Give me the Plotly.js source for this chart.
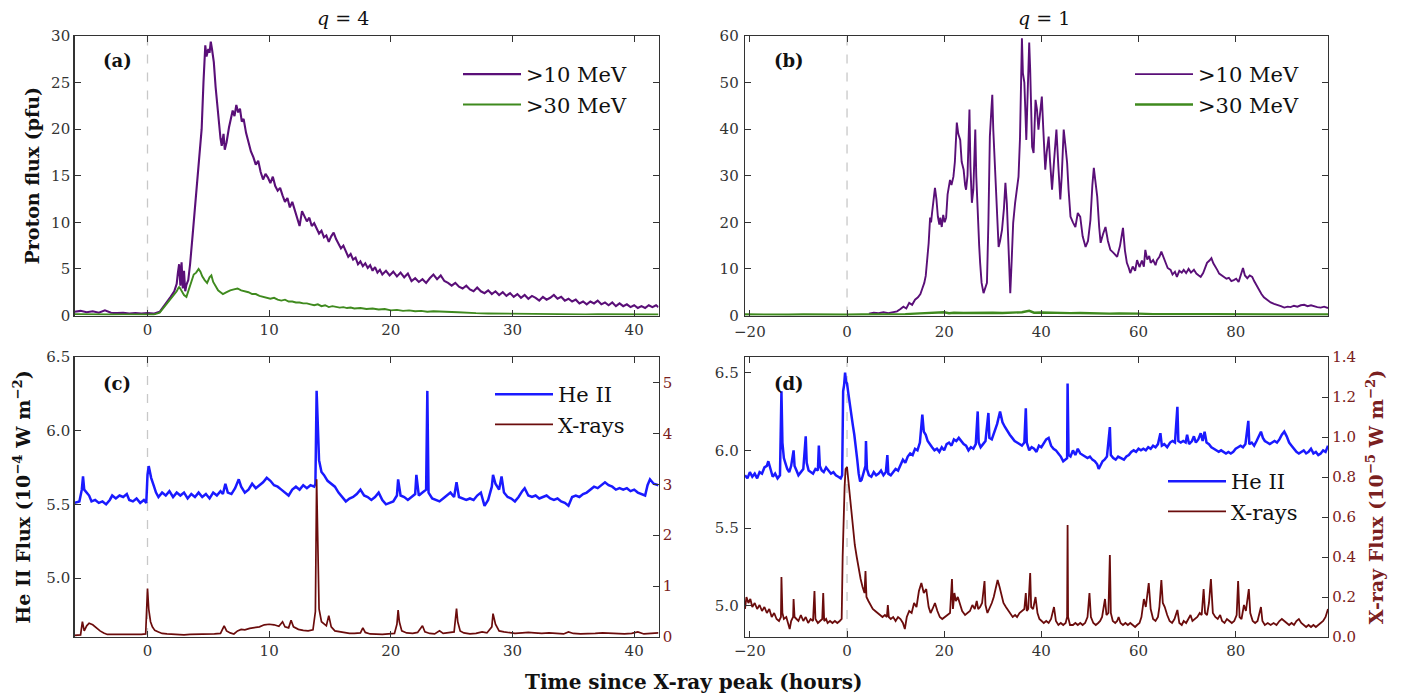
<!DOCTYPE html>
<html><head><meta charset="utf-8">
<script src="https://cdn.plot.ly/plotly-3.0.1.min.js"></script>
<style>html,body{margin:0;padding:0;background:#fff}#chart{width:1416px;height:698px}</style>
</head><body><div id="chart"></div>
<script>
// ---------- data: [time (hours), value] ----------
// (a) q = 4, proton flux >10 MeV (pfu)
const a_p10 = [[-6,0.4],[-5.5,0.5],[-5,0.35],[-4.5,0.45],[-4,0.3],[-3.5,0.55],[-3,0.3],[-2.5,0.25],[-2,0.3],[-1.5,0.2],[-1,0.25],[-0.5,0.2],[0,0.25],[0.5,0.2],[1,0.4],[1.3,0.9],[1.6,1.4],[1.9,2.0],[2.2,2.6],[2.4,3.4],[2.5,4.6],[2.6,5.5],[2.7,3.2],[2.8,5.7],[2.9,2.9],[3.0,4.8],[3.1,2.6],[3.2,3.3],[3.35,3.8],[3.5,5.5],[3.7,8.5],[3.9,11.5],[4.1,15],[4.3,18],[4.45,20],[4.6,25],[4.75,29],[4.85,27.8],[5.0,28.6],[5.1,28.2],[5.2,29.4],[5.3,28.6],[5.45,27.2],[5.6,24.5],[5.8,21.5],[6.0,19.0],[6.1,18.2],[6.25,19.5],[6.35,17.8],[6.5,18.6],[6.7,20.2],[6.9,21.2],[7.0,22.0],[7.15,21.4],[7.3,22.6],[7.45,21.8],[7.6,22.2],[7.75,20.8],[7.9,21.1],[8.1,19.6],[8.3,18.6],[8.5,17.6],[8.7,17.0],[8.9,16.2],[9.1,16.6],[9.3,15.4],[9.5,14.6],[9.7,15.2],[9.9,14.8],[10.1,14.2],[10.3,14.9],[10.5,13.9],[10.7,13.4],[10.9,13.7],[11.1,12.9],[11.3,12.2],[11.5,12.6],[11.7,11.6],[11.9,12.2],[12.1,11.3],[12.3,10.6],[12.5,9.6],[12.7,11.2],[12.9,10.6],[13.1,10.1],[13.3,10.5],[13.5,9.6],[13.7,9.9],[13.9,9.4],[14.1,8.8],[14.3,9.1],[14.5,8.4],[14.7,8.6],[14.9,7.9],[15.1,8.5],[15.3,8.9],[15.5,8.2],[15.7,7.6],[15.9,7.2],[16.1,7.5],[16.3,6.8],[16.5,6.3],[16.7,6.6],[16.9,6.0],[17.1,6.2],[17.3,5.5],[17.5,5.8],[17.7,5.3],[17.9,5.6],[18.1,5.1],[18.3,5.4],[18.5,4.8],[18.7,5.2],[18.9,4.6],[19.1,4.9],[19.3,4.4],[19.6,4.8],[19.9,4.3],[20.2,4.7],[20.5,4.2],[20.8,4.6],[21.1,4.1],[21.4,4.5],[21.7,3.7],[22.0,4.0],[22.3,3.6],[22.6,3.9],[22.9,3.5],[23.2,4.0],[23.5,4.4],[23.8,3.9],[24.1,4.3],[24.4,3.7],[24.7,3.5],[25.0,3.2],[25.3,3.5],[25.6,3.1],[25.9,2.9],[26.2,3.2],[26.5,2.8],[26.8,2.6],[27.1,3.0],[27.4,2.6],[27.7,2.4],[28.0,2.7],[28.3,2.3],[28.6,2.6],[28.9,2.2],[29.2,2.5],[29.5,2.1],[29.8,2.4],[30.1,2.0],[30.4,2.3],[30.7,1.9],[31.0,2.2],[31.3,1.8],[31.6,2.1],[31.9,1.9],[32.2,1.6],[32.5,2.0],[32.8,1.7],[33.1,1.9],[33.4,2.2],[33.7,1.8],[34.0,2.0],[34.3,1.6],[34.6,1.8],[34.9,1.5],[35.2,1.7],[35.5,1.3],[35.8,1.5],[36.1,1.2],[36.4,1.5],[36.7,1.3],[37.0,1.6],[37.3,1.2],[37.6,1.4],[37.9,1.1],[38.2,1.4],[38.5,1.0],[38.8,1.3],[39.1,1.0],[39.4,1.2],[39.7,0.9],[40.0,1.1],[40.3,0.8],[40.6,1.0],[40.9,0.8],[41.2,1.1],[41.5,0.9],[41.8,1.1],[42.0,0.9]];
// (a) q = 4, proton flux >30 MeV (pfu)
const a_p30 = [[-6,0.15],[-5,0.12],[-4,0.15],[-3,0.1],[-2,0.12],[-1,0.1],[0,0.1],[0.5,0.1],[1,0.3],[1.3,0.8],[1.6,1.3],[1.9,1.8],[2.2,2.2],[2.4,2.6],[2.6,3.1],[2.8,2.6],[3.0,2.2],[3.2,2.0],[3.4,2.8],[3.6,3.8],[3.8,4.4],[4.0,4.6],[4.2,5.0],[4.35,4.7],[4.5,4.2],[4.7,3.8],[4.9,3.5],[5.1,4.1],[5.25,4.3],[5.4,3.6],[5.6,3.1],[5.8,2.7],[6.0,2.5],[6.2,2.3],[6.5,2.5],[6.8,2.7],[7.1,2.8],[7.4,2.9],[7.7,2.7],[8.0,2.6],[8.3,2.5],[8.6,2.3],[8.9,2.3],[9.2,2.1],[9.5,2.0],[9.8,1.9],[10.1,1.8],[10.4,1.9],[10.7,1.7],[11,1.6],[11.3,1.7],[11.6,1.5],[11.9,1.5],[12.2,1.4],[12.5,1.4],[12.8,1.3],[13.1,1.3],[13.4,1.2],[13.7,1.1],[14.0,1.2],[14.3,1.0],[14.6,1.1],[14.9,0.9],[15.2,1.0],[15.5,0.9],[15.8,0.85],[16.1,0.9],[16.4,0.8],[16.7,0.85],[17,0.75],[17.5,0.8],[18,0.7],[18.5,0.75],[19,0.65],[19.5,0.7],[20,0.55],[20.5,0.6],[21,0.5],[21.5,0.55],[22,0.45],[22.5,0.5],[23,0.4],[23.5,0.45],[24,0.4],[24.5,0.42],[25,0.38],[25.5,0.35],[26,0.3],[26.5,0.32],[27,0.25],[28,0.22],[29,0.2],[30,0.18],[31,0.2],[32,0.15],[33,0.17],[34,0.14],[35,0.15],[36,0.12],[37,0.13],[38,0.11],[39,0.12],[40,0.1],[41,0.11],[42,0.1]];
// (b) q = 1, proton flux >10 MeV (pfu)
const b_p10 = [[4.5,0.4],[5.5,0.6],[6.5,0.5],[7.5,0.7],[8.5,0.5],[9.5,0.8],[10.3,0.9],[11,1.4],[11.6,1.9],[12.2,1.5],[12.8,2.7],[13.4,2.3],[14,3.4],[14.6,3.9],[15.1,4.6],[15.5,5.8],[15.9,7.0],[16.2,8.5],[16.5,12],[16.8,15.5],[17.1,21],[17.3,20],[17.5,22],[17.8,25],[18.1,27.4],[18.4,25],[18.7,21.2],[19.0,19.5],[19.2,21],[19.5,19.0],[19.8,21.6],[20.1,20],[20.4,21],[20.7,26],[21.0,27.5],[21.2,29.1],[21.5,28],[21.9,29.8],[22.2,33],[22.6,41.4],[22.9,39],[23.3,37.7],[23.6,33],[24.0,31.3],[24.3,28],[24.5,27.0],[24.8,30],[25.0,38],[25.2,44.2],[25.4,32],[25.7,24.2],[26.0,27],[26.2,33],[26.4,39.9],[26.6,30],[26.9,21.2],[27.2,15],[27.4,11.3],[27.7,7],[28.1,4.8],[28.5,6.2],[28.8,7.0],[29.1,20],[29.4,38.4],[29.7,44],[29.9,47.4],[30.1,40],[30.5,30.6],[30.8,22],[31.2,14.7],[31.5,16],[31.9,18.4],[32.3,23],[32.6,28.5],[32.9,24],[33.1,18.4],[33.4,10],[33.6,4.8],[33.9,12],[34.2,19.9],[34.6,24.2],[35.0,27],[35.3,29.8],[35.6,38],[35.8,50],[36.0,59.5],[36.2,52],[36.5,50],[36.7,44],[36.9,37.7],[37.1,45],[37.3,54],[37.5,58.6],[37.7,52.8],[37.9,44],[38.1,36.2],[38.4,34.9],[38.6,41],[38.8,46.3],[39.1,44.2],[39.4,39.9],[39.7,43],[40.1,47.0],[40.4,40],[40.8,31.3],[41.1,35],[41.5,38.4],[41.8,33],[42.2,27.0],[42.6,33],[43.1,39.9],[43.5,32],[43.9,24.9],[44.2,30],[44.6,39.9],[45.0,36],[45.3,32.8],[45.6,27],[46.0,21.2],[46.5,20],[47.0,19.0],[47.5,22],[48.0,21.2],[48.5,17],[49.1,14.7],[49.6,16],[50.1,20.5],[50.5,28],[50.8,31.7],[51.1,29],[51.5,25.5],[51.9,19],[52.2,15.6],[52.7,17.5],[53.2,19.0],[53.7,16],[54.2,14.1],[54.8,13.5],[55.6,12.6],[56.2,15],[56.8,18.8],[57.2,14],[57.6,11.3],[58.0,10.2],[58.3,9.1],[58.8,10.5],[59.3,9.6],[59.7,11.9],[60.2,10.4],[60.7,11.8],[61.1,10.5],[61.4,14.1],[61.8,12],[62.2,12.8],[62.5,11.3],[63,11.9],[63.5,10.8],[63.8,11.9],[64.3,12.6],[64.7,13.7],[65.2,12.5],[65.6,11.5],[66.0,10.2],[66.6,9.8],[67.0,8.8],[67.5,9.4],[67.9,8.3],[68.4,9.6],[68.9,9.2],[69.3,9.8],[69.8,9.1],[70.3,10.0],[70.8,9.2],[71.4,9.8],[71.9,9.0],[72.4,8.6],[72.8,8.3],[73.3,9.1],[73.7,10.4],[74.1,11.3],[74.6,11.8],[75.0,12.3],[75.4,11.2],[75.8,10.6],[76.2,9.8],[76.6,9.0],[77.1,8.6],[77.6,8.3],[78.1,7.9],[78.6,8.1],[79.1,7.4],[79.6,7.6],[80.1,7.9],[80.6,7.2],[81.0,8.4],[81.5,10.2],[81.9,8.6],[82.4,8.0],[82.9,8.6],[83.4,8.3],[83.8,7.4],[84.3,6.4],[84.8,5.5],[85.3,4.6],[85.8,3.9],[86.5,3.3],[87.2,2.8],[87.9,2.5],[88.6,2.3],[89.3,2.0],[90.0,1.7],[90.7,1.9],[91.3,1.8],[92,2.1],[92.7,1.9],[93.4,2.2],[94.1,2.3],[94.8,2.0],[95.5,2.2],[96.2,1.9],[96.8,1.8],[97.5,1.7],[98.2,1.9],[99,1.6]];
// (b) q = 1, proton flux >30 MeV (pfu)
const b_p30 = [[-21,0.2],[-18,0.15],[-15,0.2],[-12,0.15],[-9,0.2],[-6,0.15],[-3,0.2],[0,0.15],[3,0.2],[6,0.2],[9,0.25],[12,0.3],[15,0.45],[17,0.5],[19,0.6],[20,0.7],[21,0.5],[22,0.6],[24,0.55],[26,0.6],[28,0.5],[30,0.6],[32,0.55],[34,0.6],[36,0.7],[37.5,1.0],[38.5,0.6],[40,0.65],[42,0.55],[44,0.6],[46,0.5],[48,0.55],[50,0.45],[52,0.5],[54,0.4],[56,0.45],[58,0.35],[60,0.4],[63,0.3],[66,0.35],[69,0.3],[72,0.3],[75,0.3],[78,0.25],[81,0.25],[84,0.25],[87,0.2],[90,0.2],[93,0.2],[96,0.18],[99,0.2]];
// (c) q = 4, He II flux (1e-4 W m^-2)
const c_he = [[-6,5.51],[-5.6,5.52],[-5.4,5.60],[-5.3,5.69],[-5.2,5.60],[-5.0,5.58],[-4.8,5.56],[-4.6,5.52],[-4.3,5.53],[-4.0,5.51],[-3.7,5.52],[-3.4,5.50],[-3.1,5.53],[-2.9,5.56],[-2.6,5.54],[-2.3,5.56],[-2.0,5.55],[-1.7,5.57],[-1.5,5.53],[-1.2,5.52],[-0.9,5.54],[-0.6,5.51],[-0.3,5.53],[-0.1,5.51],[0.0,5.70],[0.1,5.76],[0.3,5.68],[0.5,5.63],[0.7,5.58],[0.9,5.55],[1.2,5.58],[1.5,5.56],[1.8,5.59],[2.1,5.55],[2.4,5.58],[2.7,5.56],[3.0,5.58],[3.3,5.54],[3.6,5.57],[3.9,5.55],[4.2,5.58],[4.5,5.55],[4.8,5.57],[5.1,5.54],[5.4,5.58],[5.7,5.56],[6.0,5.59],[6.2,5.57],[6.4,5.64],[6.6,5.58],[6.9,5.57],[7.2,5.61],[7.5,5.67],[7.7,5.62],[8.0,5.58],[8.3,5.60],[8.6,5.64],[8.9,5.61],[9.2,5.63],[9.5,5.65],[9.8,5.68],[10.1,5.66],[10.4,5.63],[10.7,5.62],[11.0,5.60],[11.3,5.58],[11.6,5.56],[11.9,5.60],[12.2,5.62],[12.5,5.60],[12.8,5.63],[13.1,5.61],[13.4,5.63],[13.7,5.62],[13.8,5.64],[13.9,6.27],[14.0,5.95],[14.1,5.80],[14.3,5.72],[14.5,5.70],[14.8,5.66],[15.1,5.64],[15.4,5.62],[15.7,5.58],[16.0,5.55],[16.3,5.52],[16.6,5.54],[16.9,5.55],[17.2,5.57],[17.5,5.60],[17.8,5.56],[18.1,5.55],[18.4,5.53],[18.7,5.55],[19.0,5.58],[19.3,5.53],[19.6,5.50],[19.9,5.51],[20.2,5.52],[20.5,5.56],[20.6,5.67],[20.8,5.56],[21.1,5.55],[21.4,5.53],[21.7,5.55],[22.0,5.57],[22.1,5.70],[22.3,5.56],[22.6,5.58],[22.9,5.60],[23.0,6.27],[23.1,5.58],[23.4,5.54],[23.7,5.53],[24.0,5.52],[24.3,5.54],[24.6,5.56],[24.9,5.58],[25.2,5.55],[25.4,5.65],[25.6,5.55],[25.9,5.54],[26.2,5.53],[26.5,5.54],[26.8,5.53],[27.1,5.56],[27.4,5.58],[27.7,5.49],[28.0,5.53],[28.3,5.62],[28.4,5.70],[28.6,5.64],[28.9,5.60],[29.1,5.69],[29.3,5.58],[29.6,5.55],[29.9,5.54],[30.2,5.52],[30.5,5.55],[30.8,5.59],[31.0,5.61],[31.3,5.56],[31.6,5.55],[31.9,5.56],[32.2,5.54],[32.5,5.55],[32.8,5.56],[33.1,5.54],[33.4,5.53],[33.7,5.54],[34.0,5.52],[34.3,5.51],[34.6,5.49],[34.9,5.55],[35.2,5.56],[35.5,5.55],[35.8,5.57],[36.1,5.58],[36.4,5.60],[36.7,5.62],[37.0,5.61],[37.3,5.63],[37.6,5.65],[37.9,5.63],[38.2,5.62],[38.5,5.60],[38.8,5.61],[39.1,5.60],[39.4,5.61],[39.7,5.59],[40.0,5.60],[40.3,5.58],[40.6,5.57],[40.9,5.56],[41.1,5.63],[41.3,5.67],[41.6,5.64],[42.0,5.63]];
// (c) q = 4, X-ray flux (1e-5 W m^-2)
const c_xr = [[-6,0.03],[-5.5,0.04],[-5.35,0.30],[-5.2,0.12],[-5.0,0.22],[-4.8,0.27],[-4.5,0.24],[-4.2,0.18],[-3.9,0.12],[-3.6,0.08],[-3.3,0.05],[-3.0,0.05],[-2.5,0.05],[-2,0.04],[-1.5,0.05],[-1,0.04],[-0.5,0.05],[-0.15,0.06],[0.0,0.95],[0.1,0.55],[0.25,0.30],[0.4,0.2],[0.6,0.13],[0.9,0.1],[1.2,0.07],[1.6,0.06],[2,0.05],[2.5,0.05],[3,0.04],[3.5,0.05],[4,0.05],[4.5,0.06],[5,0.05],[5.5,0.06],[6.0,0.07],[6.3,0.22],[6.5,0.12],[6.8,0.08],[7.1,0.06],[7.4,0.12],[7.7,0.15],[8,0.14],[8.4,0.17],[8.8,0.19],[9.2,0.2],[9.6,0.24],[10,0.25],[10.4,0.24],[10.8,0.21],[11.1,0.30],[11.3,0.2],[11.6,0.18],[11.8,0.33],[12.0,0.2],[12.4,0.15],[12.8,0.13],[13.2,0.12],[13.6,0.14],[13.8,0.5],[13.9,3.1],[14.0,1.6],[14.1,0.55],[14.3,0.30],[14.5,0.25],[14.7,0.22],[14.9,0.42],[15.1,0.2],[15.4,0.12],[15.8,0.1],[16.2,0.08],[16.6,0.07],[17,0.07],[17.5,0.08],[17.7,0.18],[17.9,0.09],[18.3,0.06],[18.8,0.05],[19.3,0.05],[19.8,0.06],[20.3,0.07],[20.5,0.25],[20.6,0.53],[20.7,0.3],[20.9,0.12],[21.3,0.08],[21.8,0.07],[22.2,0.09],[22.6,0.22],[22.8,0.1],[23.2,0.07],[23.6,0.06],[24,0.12],[24.3,0.07],[24.8,0.08],[25.2,0.1],[25.4,0.56],[25.5,0.3],[25.7,0.12],[26,0.08],[26.5,0.06],[27,0.07],[27.5,0.1],[27.9,0.08],[28.3,0.2],[28.4,0.46],[28.6,0.25],[28.9,0.12],[29.3,0.1],[29.7,0.08],[30.2,0.07],[30.8,0.08],[31.3,0.09],[31.8,0.08],[32.4,0.07],[33,0.08],[33.6,0.07],[34.2,0.06],[34.6,0.1],[35,0.07],[35.6,0.06],[36.2,0.06],[36.8,0.07],[37.4,0.08],[38,0.07],[38.6,0.06],[39.2,0.06],[39.8,0.07],[40.3,0.1],[40.8,0.06],[41.4,0.07],[42,0.08]];
// (d) q = 1, He II flux (1e-4 W m^-2)
const d_he = [[-21,5.84],[-20.5,5.82],[-20,5.86],[-19.5,5.83],[-19,5.85],[-18.5,5.82],[-18,5.86],[-17.5,5.85],[-17,5.89],[-16.5,5.90],[-16.2,5.93],[-15.8,5.88],[-15.3,5.83],[-14.8,5.85],[-14.3,5.82],[-13.8,5.84],[-13.5,6.38],[-13.3,6.05],[-13.0,5.95],[-12.7,5.92],[-12.3,5.88],[-11.9,5.86],[-11.5,5.90],[-11.0,6.00],[-10.8,5.90],[-10.4,5.87],[-10.0,5.84],[-9.5,5.86],[-9.0,5.88],[-8.5,6.09],[-8.3,5.92],[-7.9,5.87],[-7.5,5.86],[-7.0,5.85],[-6.5,5.88],[-6.0,5.87],[-5.8,6.03],[-5.6,5.90],[-5.2,5.87],[-4.8,5.86],[-4.3,5.89],[-3.8,5.87],[-3.3,5.85],[-2.8,5.86],[-2.3,5.84],[-1.8,5.83],[-1.3,5.82],[-1.0,5.84],[-0.8,6.38],[-0.6,6.42],[-0.4,6.50],[-0.2,6.44],[0.0,6.43],[0.3,6.36],[0.6,6.28],[0.9,6.22],[1.2,6.16],[1.5,6.10],[1.8,6.03],[2.1,5.94],[2.4,5.85],[2.7,5.80],[3.0,5.81],[3.4,5.85],[3.8,5.90],[3.9,6.06],[4.1,5.88],[4.5,5.84],[5,5.83],[5.5,5.86],[6,5.84],[6.5,5.85],[7,5.87],[7.5,5.84],[8,5.86],[8.3,5.97],[8.5,5.85],[9,5.84],[9.5,5.86],[10,5.88],[10.5,5.87],[11,5.90],[11.5,5.94],[12,5.92],[12.5,5.96],[13,5.98],[13.5,5.97],[14,6.01],[14.5,6.00],[15,6.05],[15.5,6.23],[15.8,6.12],[16.2,6.10],[16.6,6.06],[17,6.04],[17.5,6.02],[18,6.00],[18.5,6.01],[19,5.99],[19.5,6.02],[20,6.00],[20.5,6.04],[21,6.05],[21.5,6.03],[22,6.07],[22.5,6.06],[23,6.08],[23.5,6.06],[24,6.04],[24.5,6.03],[25,6.00],[25.5,6.02],[26,6.01],[26.5,6.04],[26.9,6.25],[27.1,6.05],[27.5,6.02],[28,6.04],[28.5,6.06],[29.1,6.24],[29.3,6.08],[29.8,6.07],[30.3,6.12],[30.9,6.17],[31.5,6.25],[32,6.18],[32.5,6.15],[33,6.12],[33.5,6.10],[34,6.08],[34.5,6.06],[35,6.05],[35.5,6.04],[36,6.03],[36.5,6.05],[36.8,6.27],[37,6.05],[37.5,6.00],[38,6.02],[38.5,6.01],[39,5.99],[39.5,6.03],[40,6.02],[40.5,6.05],[41,6.07],[41.5,6.08],[42,6.03],[42.5,6.01],[43,6.00],[43.5,5.98],[44,5.96],[44.5,5.93],[45,5.94],[45.3,5.95],[45.4,6.43],[45.6,5.97],[46,5.96],[46.5,6.00],[47,5.97],[47.5,6.01],[48,5.98],[48.5,5.97],[49,5.96],[49.5,5.95],[50,5.96],[50.5,5.94],[51,5.93],[51.5,5.91],[51.8,5.88],[52.2,5.91],[52.6,5.93],[53,5.94],[53.5,5.96],[54.1,6.15],[54.3,5.97],[54.8,5.95],[55.3,5.94],[55.8,5.96],[56.3,5.95],[57,5.94],[57.5,5.96],[58,5.97],[58.5,5.99],[59,6.00],[59.5,5.99],[60,6.01],[60.5,6.00],[61,6.01],[61.5,6.00],[62,6.02],[62.5,6.01],[63,6.03],[63.5,6.02],[64,6.04],[64.5,6.11],[64.8,6.03],[65.3,6.04],[65.9,6.02],[66.5,6.05],[67,6.06],[67.5,6.05],[68,6.28],[68.2,6.06],[68.7,6.05],[69.2,6.06],[69.7,6.05],[70,6.10],[70.4,6.04],[71,6.06],[71.4,6.09],[71.8,6.05],[72.3,6.07],[72.8,6.11],[73.2,6.06],[73.6,6.12],[74,6.05],[74.5,6.04],[75,6.02],[75.5,6.01],[76,6.00],[76.5,5.99],[77,6.00],[77.5,5.99],[78,5.98],[78.5,5.99],[79,5.98],[79.5,5.99],[80,6.01],[80.5,6.02],[81,6.03],[81.5,6.02],[82,6.04],[82.6,6.19],[82.8,6.04],[83.3,6.05],[83.8,6.03],[84.3,6.06],[84.8,6.09],[85.2,6.12],[85.6,6.08],[86,6.06],[86.5,6.05],[87,6.04],[87.5,6.05],[88,6.06],[88.5,6.05],[89,6.07],[89.5,6.10],[90,6.12],[90.5,6.09],[91,6.05],[91.5,6.03],[92,6.01],[92.5,5.99],[93,5.98],[93.5,5.99],[94,6.00],[94.5,5.98],[95,5.99],[95.5,6.01],[96,5.98],[96.5,5.99],[97,5.97],[97.5,5.98],[98,6.00],[98.5,5.99],[99,6.03]];
// (d) q = 1, X-ray flux (1e-5 W m^-2)
const d_xr = [[-21,0.14],[-20.7,0.20],[-20.3,0.17],[-19.9,0.19],[-19.5,0.15],[-19,0.17],[-18.5,0.14],[-18,0.16],[-17.5,0.13],[-17,0.15],[-16.5,0.12],[-16,0.14],[-15.5,0.10],[-15,0.12],[-14.5,0.09],[-14,0.08],[-13.6,0.1],[-13.5,0.30],[-13.3,0.12],[-13,0.09],[-12.5,0.10],[-12,0.06],[-11.8,0.04],[-11.5,0.08],[-11.1,0.10],[-11,0.19],[-10.8,0.10],[-10.4,0.09],[-10,0.08],[-9.5,0.11],[-9,0.08],[-8.5,0.10],[-8,0.07],[-7.5,0.09],[-7,0.08],[-6.7,0.23],[-6.5,0.09],[-6,0.07],[-5.5,0.08],[-5.1,0.09],[-4.9,0.22],[-4.7,0.08],[-4.3,0.09],[-4,0.07],[-3.5,0.08],[-3,0.07],[-2.5,0.08],[-2,0.07],[-1.5,0.08],[-1.1,0.09],[-0.9,0.40],[-0.7,0.60],[-0.5,0.75],[-0.3,0.84],[0.0,0.85],[0.2,0.80],[0.5,0.73],[0.8,0.63],[1.2,0.54],[1.6,0.46],[2.0,0.40],[2.4,0.34],[2.8,0.29],[3.2,0.25],[3.6,0.22],[3.8,0.33],[4.0,0.20],[4.4,0.18],[4.8,0.16],[5.3,0.14],[5.8,0.13],[6.3,0.12],[6.8,0.11],[7.3,0.10],[7.8,0.11],[8.2,0.10],[8.4,0.16],[8.6,0.10],[9,0.09],[9.5,0.10],[10,0.08],[10.5,0.10],[11,0.09],[11.5,0.07],[11.9,0.04],[12.3,0.10],[12.8,0.13],[13.3,0.12],[13.8,0.17],[14.3,0.15],[14.8,0.23],[15.3,0.27],[15.8,0.22],[16.3,0.24],[16.8,0.15],[17.2,0.12],[17.6,0.14],[18.1,0.17],[18.6,0.13],[19.1,0.10],[19.6,0.09],[20.1,0.10],[20.6,0.11],[21.2,0.12],[21.6,0.29],[21.8,0.14],[22.1,0.22],[22.4,0.18],[22.8,0.20],[23.3,0.16],[23.7,0.13],[24.3,0.11],[24.8,0.12],[25.3,0.13],[25.8,0.16],[26.3,0.14],[26.7,0.18],[27.0,0.14],[27.4,0.15],[27.8,0.17],[28.3,0.28],[28.5,0.16],[28.9,0.12],[29.3,0.14],[29.8,0.17],[30.2,0.20],[30.6,0.25],[31.0,0.285],[31.4,0.25],[31.8,0.21],[32.2,0.17],[32.7,0.15],[33.2,0.13],[33.6,0.12],[34.1,0.10],[34.6,0.11],[35.0,0.10],[35.5,0.12],[36,0.13],[36.5,0.14],[36.8,0.22],[37.0,0.13],[37.3,0.14],[37.7,0.32],[37.9,0.15],[38.3,0.14],[38.8,0.20],[39.2,0.12],[39.6,0.09],[40,0.08],[40.5,0.07],[41,0.08],[41.5,0.07],[42,0.09],[42.6,0.15],[43,0.08],[43.5,0.06],[44,0.07],[44.5,0.06],[45,0.07],[45.3,0.10],[45.4,0.56],[45.5,0.10],[45.9,0.06],[46.5,0.06],[47,0.07],[47.5,0.06],[48,0.07],[48.5,0.06],[49,0.07],[49.5,0.10],[49.9,0.22],[50.2,0.10],[50.7,0.07],[51.2,0.06],[51.7,0.07],[52.1,0.08],[52.5,0.10],[52.8,0.14],[53.1,0.19],[53.4,0.11],[53.8,0.12],[54.1,0.41],[54.3,0.12],[54.7,0.08],[55.2,0.07],[55.6,0.08],[55.9,0.10],[56.3,0.07],[56.8,0.06],[57.3,0.07],[57.8,0.06],[58.3,0.07],[58.8,0.06],[59.3,0.05],[59.7,0.06],[60.2,0.07],[60.6,0.10],[61.1,0.19],[61.5,0.15],[62.1,0.27],[62.5,0.14],[63,0.09],[63.5,0.08],[64,0.10],[64.3,0.15],[64.7,0.285],[65,0.17],[65.4,0.15],[65.9,0.11],[66.4,0.08],[66.9,0.07],[67.4,0.09],[68,0.135],[68.4,0.07],[68.9,0.06],[69.3,0.08],[69.8,0.07],[70.3,0.09],[70.7,0.11],[71.1,0.08],[71.6,0.09],[72.1,0.10],[72.6,0.12],[73,0.11],[73.4,0.24],[73.7,0.12],[74.1,0.11],[74.5,0.17],[74.9,0.29],[75.3,0.12],[75.8,0.10],[76.3,0.09],[76.8,0.11],[77.2,0.08],[77.7,0.07],[78.2,0.09],[78.7,0.08],[79.2,0.07],[79.7,0.08],[80.2,0.11],[80.5,0.28],[80.8,0.10],[81.2,0.09],[81.7,0.16],[82.1,0.13],[82.4,0.18],[82.7,0.24],[83,0.12],[83.5,0.08],[84,0.07],[84.5,0.08],[85.2,0.15],[85.5,0.08],[86,0.06],[86.6,0.07],[87.2,0.06],[87.8,0.07],[88.4,0.06],[89,0.08],[89.5,0.09],[90,0.08],[90.5,0.07],[91,0.06],[91.5,0.07],[92,0.06],[92.5,0.08],[93,0.09],[93.5,0.07],[94,0.06],[94.5,0.05],[95,0.06],[95.5,0.05],[96,0.06],[96.5,0.05],[97,0.06],[97.5,0.07],[98,0.08],[98.5,0.1],[99,0.14]];

const seriesNames = ['>10 MeV', '>30 MeV', 'He II', 'X-rays'];
const colors = {p10:'#5a0f78', p30:'#3f8a1e', he:'#1a1aff', xr:'#6b0c0c'};
const FONT = 'DejaVu Serif, Liberation Serif, serif';

const X = p => p.map(d => d[0]);
const Y = p => p.map(d => d[1]);

function line(p, name, color, xa, ya, leg, w){
  return {x:X(p), y:Y(p), type:'scatter', mode:'lines', name:name,
    line:{color:color, width:w||1.6}, xaxis:xa, yaxis:ya, legend:leg, hoverinfo:'skip'};
}

const traces = [
  line(a_p10, seriesNames[0], colors.p10, 'x', 'y', 'legend', 2.1),
  line(a_p30, seriesNames[1], colors.p30, 'x', 'y', 'legend', 1.9),
  line(b_p10, seriesNames[0], colors.p10, 'x2', 'y2', 'legend2', 1.9),
  line(b_p30, seriesNames[1], colors.p30, 'x2', 'y2', 'legend2', 2.4),
  line(c_he, seriesNames[2], colors.he, 'x3', 'y3', 'legend3', 2.5),
  line(c_xr, seriesNames[3], colors.xr, 'x3', 'y4', 'legend3', 1.7),
  line(d_he, seriesNames[2], colors.he, 'x4', 'y5', 'legend4', 2.5),
  line(d_xr, seriesNames[3], colors.xr, 'x4', 'y6', 'legend4', 1.8)
];

const W = 1416, H = 698;
const colL = [74.5/W, 658.5/W], colR = [745/W, 1328/W];
const rowT = [1-315.5/H, 1-36/H], rowB = [1-637/H, 1-357/H];

function ax(extra){
  return Object.assign({showgrid:false, zeroline:false, showline:true, linecolor:'#333', linewidth:1.3,
    ticks:'inside', ticklen:6, tickwidth:1, tickcolor:'#333', mirror:'ticks', autorange:false,
    tickfont:{family:FONT, size:15, color:'#333'}, automargin:false}, extra);
}
const maroon = '#7a2020';
function legendAt(x, y){
  return {x:x, y:y, xanchor:'left', yanchor:'top', bgcolor:'rgba(0,0,0,0)', borderwidth:0,
    font:{family:FONT, size:21, color:'#111'}, itemwidth:58, tracegroupgap:0};
}
function vline(xr){
  return {type:'line', xref:xr, yref:xr.replace('x','y')+' domain', x0:0, x1:0, y0:0, y1:1,
    line:{color:'#c8c8c8', width:1.3, dash:'dash'}, layer:'below'};
}
const titleFont = {family:FONT, size:19, color:'#111'};
function note(text, px, py, size, bold){
  return {text: bold ? '<b>'+text+'</b>' : text, xref:'paper', yref:'paper', x:px/W, y:1-py/H,
    xanchor:'center', yanchor:'middle', showarrow:false, font:{family:FONT, size:size, color:'#111'}};
}

const layout = {
  width:W, height:H, margin:{l:0, r:0, t:0, b:0}, paper_bgcolor:'#fff', plot_bgcolor:'#fff',
  font:{family:FONT, color:'#222'}, showlegend:true,
  xaxis: ax({domain:colL, anchor:'y', range:[-6,42], tickvals:[0,10,20,30,40]}),
  yaxis: ax({domain:rowT, anchor:'x', range:[0,30], dtick:5,
    title:{text:'<b>Proton flux (pfu)</b>', font:titleFont, standoff:6}}),
  xaxis2: ax({domain:colR, anchor:'y2', range:[-21,99], tickvals:[-20,0,20,40,60,80], ticklabelstandoff:2}),
  yaxis2: ax({domain:rowT, anchor:'x2', range:[0,60], dtick:10, ticklabelstandoff:2}),
  xaxis3: ax({domain:colL, anchor:'y3', range:[-6,42], tickvals:[0,10,20,30,40]}),
  yaxis3: ax({domain:rowB, anchor:'x3', range:[4.6,6.5], tickvals:[5.0,5.5,6.0,6.5], tickformat:'.1f', mirror:true,
    title:{text:'<b>He II Flux (10<sup>−4</sup> W m<sup>−2</sup>)</b>', font:titleFont, standoff:10}}),
  yaxis4: ax({overlaying:'y3', anchor:'x3', side:'right', range:[0,5.5], tickvals:[0,1,2,3,4,5], mirror:false,
    tickfont:{family:FONT, size:15, color:maroon}}),
  xaxis4: ax({domain:colR, anchor:'y5', range:[-21,99], tickvals:[-20,0,20,40,60,80]}),
  yaxis5: ax({domain:rowB, anchor:'x4', range:[4.8,6.6], tickvals:[5.0,5.5,6.0,6.5], tickformat:'.1f', mirror:true, ticklabelstandoff:2}),
  yaxis6: ax({overlaying:'y5', anchor:'x4', side:'right', range:[0,1.4], dtick:0.2, tickformat:'.1f', mirror:false,
    tickfont:{family:FONT, size:15, color:maroon},
    title:{text:'<b>X-ray Flux (10<sup>−5</sup> W m<sup>−2</sup>)</b>', font:{family:FONT, size:19, color:maroon}, standoff:14}}),
  legend: legendAt(458/W, 1-54/H),
  legend2: legendAt(1130/W, 1-54/H),
  legend3: legendAt(490/W, 1-374/H),
  legend4: legendAt(1163/W, 1-461/H),
  shapes: [vline('x'), vline('x2'), vline('x3'), vline('x4')],
  annotations: [
    note('<i>q</i> = 4', 343, 18, 19, false),
    note('<i>q</i> = 1', 1044, 18, 19, false),
    note('(a)', 117, 60, 18, true),
    note('(b)', 789, 60, 18, true),
    note('(c)', 117, 383, 18, true),
    note('(d)', 789, 383, 18, true),
    note('Time since X-ray peak (hours)', 693, 682, 20, true)
  ]
};

Plotly.newPlot('chart', traces, layout, {displayModeBar:false, staticPlot:true});
</script>
</body></html>
